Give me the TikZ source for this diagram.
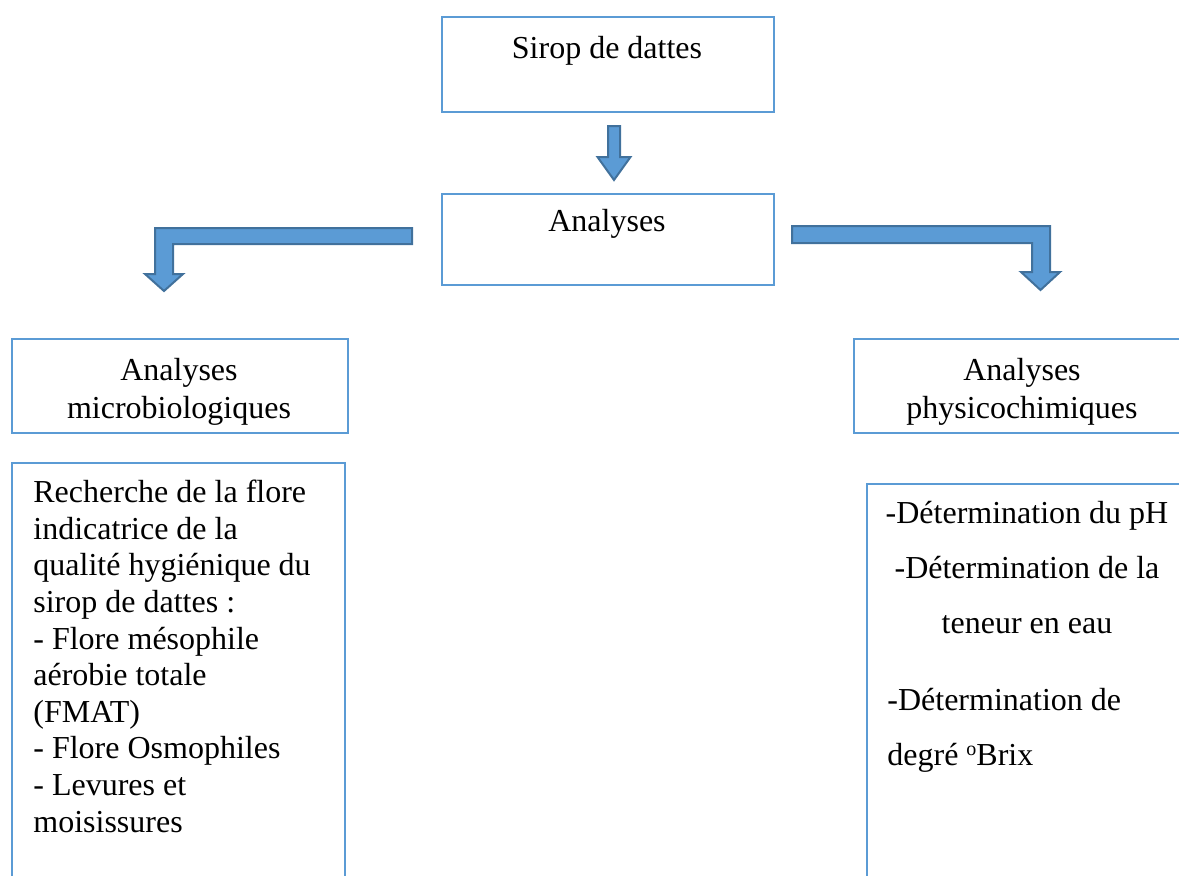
\documentclass[tikz,border=0pt]{standalone}
\usepackage{fontspec}
\setmainfont{Liberation Serif}
\usepackage{tikz}
\usetikzlibrary{positioning,calc}
\definecolor{boxblue}{RGB}{91,155,213}
\definecolor{arrowedge}{RGB}{65,113,156}
\begin{document}
\begin{tikzpicture}[x=0.5pt, y=-0.5pt, font=\fontsize{16}{18.3}\selectfont, box/.style={draw=boxblue, line width=1pt, inner sep=0pt, anchor=north west}, txt/.style={inner sep=0pt}, blk/.style={fill=boxblue, draw=arrowedge, line width=1pt, line join=miter}]
\useasboundingbox (0,0) rectangle (1179,875);
\clip (0,0) rectangle (1179,875);
\node[box, minimum width=166pt, minimum height=47.5pt] (sirop) at (441,16) {};
\node[box, minimum width=166pt, minimum height=45.5pt] (ana) at (441,193) {};
\node[box, minimum width=168pt, minimum height=47pt] (micro) at (11,338) {};
\node[box, minimum width=169pt, minimum height=47pt] (physico) at (853,338) {};
\node[box, minimum width=166.5pt, minimum height=219pt] (flore) at (11,462) {};
\node[box, minimum width=170pt, minimum height=210pt] (deter) at (866,483) {};
\node[txt, anchor=base] (siropT) at (607,58) {Sirop de dattes};
\node[txt, anchor=base] (anaT) at (607,231) {Analyses};
\node[txt, align=center, anchor=base] (microT) at (179,418) {Analyses\\[0.7pt]microbiologiques};
\node[txt, align=center, anchor=base] (physicoT) at (1022,418) {Analyses\\[0.7pt]physicochimiques};
\node[txt, align=left, anchor=base west] (floreT) at (33,832) {Recherche de la flore\\indicatrice de la\\qualité hygiénique du\\sirop de dattes :\\- Flore mésophile\\aérobie totale\\(FMAT)\\- Flore Osmophiles\\- Levures et\\moisissures};
\node[txt, align=center, anchor=base] (deterT) at (1027,633) {-Détermination du pH\\[9.2pt]-Détermination de la\\[9.2pt]teneur en eau};
\node[txt, align=left, anchor=base west] (brixT) at (887,765) {-Détermination de\\[9.2pt]degré \raisebox{0.3em}{\fontsize{10}{10}\selectfont o}Brix};
\draw[blk] ($(sirop.south)+(0,13)$) -- ++(12,0) -- ++(0,31) -- ++(10.5,0) -- ++(-16.5,23) -- ++(-16.5,-23) -- ++(10.5,0) -- cycle;
\draw[blk] ($(ana.west)+(-29,-11.5)$) -- ++(-257,0) -- ++(0,46) -- ++(-10,0) -- ++(19,17) -- ++(19,-17) -- ++(-10,0) -- ++(0,-30) -- ++(239,0) -- cycle;
\draw[blk] ($(ana.east)+(17,-13.5)$) -- ++(258,0) -- ++(0,46) -- ++(10,0) -- ++(-19.5,18) -- ++(-19.5,-18) -- ++(11,0) -- ++(0,-29) -- ++(-240,0) -- cycle;
\end{tikzpicture}
\end{document}
